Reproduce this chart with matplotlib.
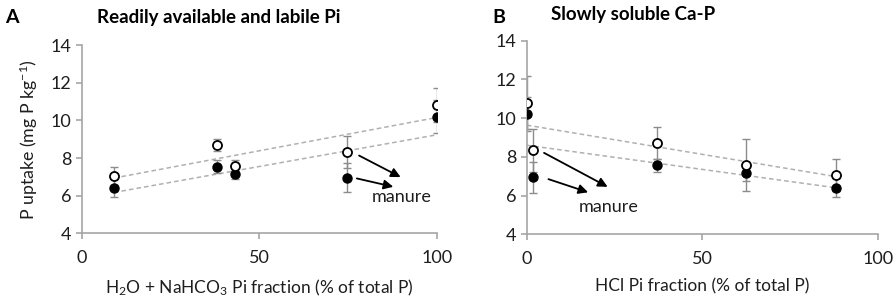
import numpy as np
import matplotlib
matplotlib.use('Agg')
import matplotlib.pyplot as plt

plt.rcParams['font.family'] = ['Lato', 'DejaVu Sans']
plt.rcParams['mathtext.default'] = 'regular'

# P uptake (mg P/kg), open = one harvest, filled = other
open_uptake = [7.05, 8.7, 7.57, 8.33, 10.8]
filled_uptake = [6.4, 7.55, 7.15, 6.95, 10.2]

# panel A: H2O + NaHCO3 Pi fraction (% of total P)
labile_frac = [9, 38, 43, 74.6, 100]
open_err_a = [0.5, 0.3, 0.32, 0.85, 0.9]
filled_err_a = [0.48, 0.35, 0.28, 0.77, 0.88]

# panel B: HCl Pi fraction (% of total P)
hcl_frac = [88, 37, 62.5, 1.8, 0]
open_err_b = [0.83, 0.82, 1.35, 1.12, 1.35]
filled_err_b = [0.5, 0.35, 0.4, 0.8, 0.87]

grey = '#a6a6a6'
txt = '#1e1e1e'

fig = plt.figure(figsize=(8.96, 3.05), dpi=100)
axA = fig.add_axes([0.0915, 0.235, 0.396, 0.617])
axB = fig.add_axes([0.588, 0.232, 0.392, 0.635])


def panel(ax, x, oerr, ferr):
    x = np.array(x)
    for y, err in [(open_uptake, oerr), (filled_uptake, ferr)]:
        ax.errorbar(x, y, yerr=err, fmt='none', ecolor='#8c8c8c', elinewidth=1,
                    capsize=3, capthick=1, zorder=2)
        k, b = np.polyfit(x, y, 1)
        xx = np.array([x.min(), x.max()])
        ax.plot(xx, k * xx + b, ls=(0, (3, 2)), color='#b0b0b0', lw=1.1, zorder=1)
    ax.plot(x, filled_uptake, 'o', ms=6.5, mfc='black', mec='black', zorder=3)
    ax.plot(x, open_uptake, 'o', ms=6.5, mfc='white', mec='black', mew=1.3, zorder=4)
    ax.set_xlim(0, 100)
    ax.set_ylim(4, 14)
    ax.set_xticks([0, 50, 100])
    ax.set_yticks([4, 6, 8, 10, 12, 14])
    for s in ['top', 'right']:
        ax.spines[s].set_visible(False)
    for s in ['left', 'bottom']:
        ax.spines[s].set_color(grey)
        ax.spines[s].set_linewidth(1.2)
    ax.tick_params(colors=grey, labelcolor=txt, labelsize=13, length=4, width=1.2)
    ax.tick_params(axis='x', pad=8)
    for lab in ax.get_xticklabels() + ax.get_yticklabels():
        lab.set_clip_on(False)


panel(axA, labile_frac, open_err_a, filled_err_a)
panel(axB, hcl_frac, open_err_b, filled_err_b)

arrow = dict(arrowstyle='-|>', color='black', lw=1.3, mutation_scale=14)
axA.annotate('', xy=(90.5, 6.92), xytext=(77.4, 8.2), arrowprops=arrow)
axA.annotate('', xy=(88.5, 6.44), xytext=(76.7, 6.95), arrowprops=arrow)
axA.text(90, 5.95, 'manure', fontsize=13, ha='center', va='center', color=txt)

axB.annotate('', xy=(23.7, 6.38), xytext=(4.2, 8.27), arrowprops=arrow)
axB.annotate('', xy=(18.2, 6.12), xytext=(5.4, 6.89), arrowprops=arrow)
axB.text(23.4, 5.43, 'manure', fontsize=13, ha='center', va='center', color=txt)

axA.set_ylabel('P uptake (mg P kg$^{-1}$)', fontsize=12.8, color=txt, labelpad=8)
axA.set_xlabel('H$_2$O + NaHCO$_3$ Pi fraction (% of total P)', fontsize=12.5,
               color=txt, labelpad=8)
axB.set_xlabel('HCl Pi fraction (% of total P)', fontsize=12.5, color=txt, labelpad=8)

fig.text(0.006, 0.944, 'A', fontsize=14, fontweight='bold', va='center')
fig.text(0.108, 0.944, 'Readily available and labile Pi', fontsize=13.5,
         fontweight='bold', va='center')
fig.text(0.549, 0.944, 'B', fontsize=14, fontweight='bold', va='center')
fig.text(0.615, 0.954, 'Slowly soluble Ca-P', fontsize=13.5, fontweight='bold', va='center')

fig.savefig('out.png', dpi=100)
